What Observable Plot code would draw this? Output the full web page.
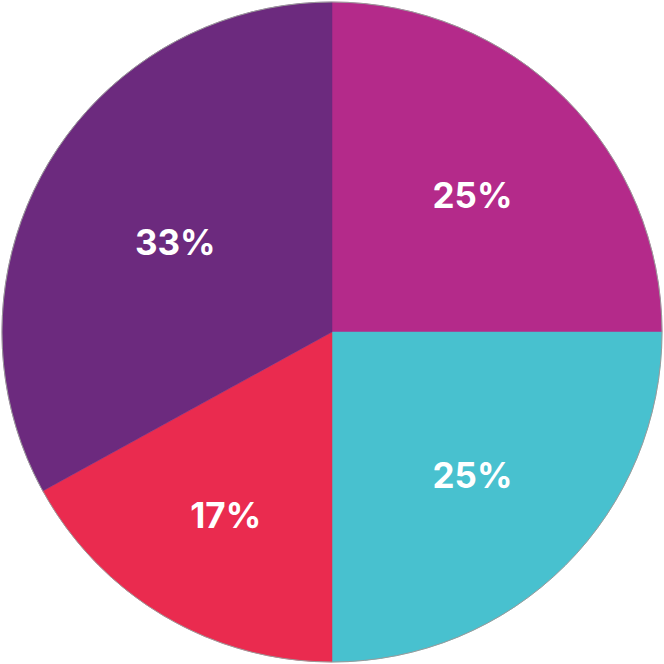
<!DOCTYPE html>
<html>
<head>
<meta charset="utf-8">
<script src="https://cdn.jsdelivr.net/npm/d3@7"></script>
<script src="https://cdn.jsdelivr.net/npm/@observablehq/plot@0.6"></script>
<style>
  html, body { margin: 0; padding: 0; background: #fff; }
  #chart { width: 664px; height: 664px; }
</style>
</head>
<body>
<div id="chart"></div>
<script>
const categories = ["A", "B", "C", "D"];
const values = [25, 25, 17, 33];
const labels = ["25%", "25%", "17%", "33%"];
const colors = ["#B42A8A", "#48C1CF", "#EA2B4F", "#6C2A7E"];

const R = 330 / 332;

const pie = d3.pie().sort(null).value(d => d.value)(
  categories.map((c, i) => ({category: c, value: values[i], label: labels[i], color: colors[i]}))
);
// labels at the area centroid of each circular sector
const labelData = pie.map(p => {
  const a = (p.startAngle + p.endAngle) / 2;
  const half = (p.endAngle - p.startAngle) / 2;
  const d = 2 * R * Math.sin(half) / (3 * half);
  return {label: p.data.label, x: Math.sin(a) * d, y: Math.cos(a) * d};
});

const slices = (index, scales, values, dimensions) => {
  const cx = scales.x(0), cy = scales.y(0);
  const r = scales.x(R) - cx;
  const g = d3.create("svg:g").attr("transform", `translate(${cx},${cy})`);
  const arc = d3.arc().innerRadius(0).outerRadius(r);
  g.selectAll("path").data(pie).join("path")
    .attr("d", arc)
    .attr("fill", d => d.data.color)
    .attr("stroke", d => d.data.color)
    .attr("stroke-width", 0.5);
  g.append("circle").attr("r", r).attr("fill", "none").attr("stroke", "#9a9a9a").attr("stroke-width", 1);
  return g.node();
};

const chart = Plot.plot({
  width: 664,
  height: 664,
  margin: 0,
  x: {domain: [-1, 1], axis: null},
  y: {domain: [-1, 1], axis: null},
  marks: [
    slices,
    Plot.text(labelData, {
      x: "x", y: "y", text: "label", dy: 4,
      fill: "white", fontSize: 35, fontWeight: 700,
      fontFamily: "Inter, sans-serif"
    })
  ]
});
document.getElementById("chart").append(chart);
</script>
</body>
</html>
